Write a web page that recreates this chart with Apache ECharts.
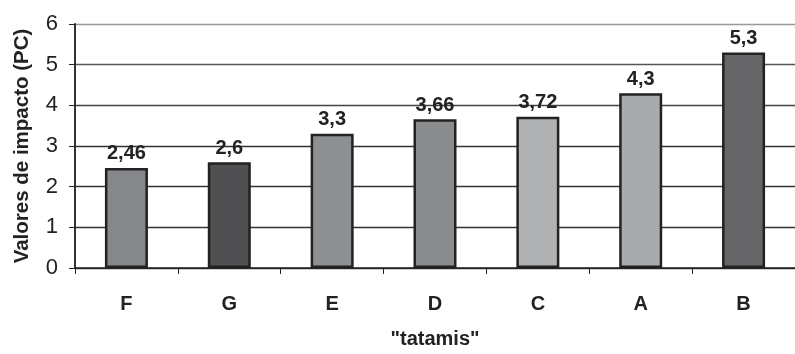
<!DOCTYPE html>
<html>
<head>
<meta charset="utf-8">
<script src="https://cdn.jsdelivr.net/npm/echarts@6/dist/echarts.min.js"></script>
<style>html,body{margin:0;padding:0;background:#fff;}#c{width:795px;height:354px;}</style>
</head>
<body>
<div id="c"></div>
<script>
var categories = ['F', 'G', 'E', 'D', 'C', 'A', 'B'];
var values = [2.46, 2.6, 3.3, 3.66, 3.72, 4.3, 5.3];
var barColors = ['#85878a', '#505052', '#8e8f91', '#8a8b8d', '#b0b1b3', '#a9aaac', '#666668'];
var yTicks = [0, 1, 2, 3, 4, 5, 6];

var chart = echarts.init(document.getElementById('c'));
chart.setOption({
  animation: false,
  backgroundColor: '#fff',
  grid: { left: 75, right: -8, top: 24, bottom: 85, containLabel: false },
  xAxis: {
    type: 'category',
    data: categories,
    name: '"tatamis"',
    nameLocation: 'middle',
    nameGap: 61,
    nameTextStyle: { fontFamily: 'Liberation Sans, Arial', fontWeight: 'bold', fontSize: 20, color: '#222' },
    axisLine: { lineStyle: { color: '#222', width: 1.5 } },
    axisTick: { show: true, alignWithLabel: false, length: 6, lineStyle: { color: '#222' } },
    axisLabel: { fontFamily: 'Liberation Sans, Arial', fontWeight: 'bold', fontSize: 20, color: '#222', margin: 26 }
  },
  yAxis: {
    type: 'value',
    min: yTicks[0], max: yTicks[yTicks.length - 1], interval: 1,
    name: 'Valores de impacto (PC)',
    nameLocation: 'middle',
    nameGap: 42,
    nameTextStyle: { fontFamily: 'Liberation Sans, Arial', fontWeight: 'bold', fontSize: 20.5, color: '#222' },
    axisLine: { show: true, lineStyle: { color: '#333', width: 2 } },
    axisTick: { show: true, length: 6, lineStyle: { color: '#222' } },
    axisLabel: { fontFamily: 'Liberation Sans, Arial', fontSize: 22, color: '#222', margin: 17 },
    splitLine: { show: true, lineStyle: { color: ['#333', '#333', '#333', '#333', '#444', '#555', '#999'], width: 1.3 } }
  },
  series: [{
    type: 'bar',
    data: values.map(function (v, i) { return { value: v, itemStyle: { color: barColors[i] } }; }),
    barWidth: 43,
    itemStyle: { borderColor: '#222', borderWidth: 2.5 },
    label: {
      show: true, position: 'top', distance: 4,
      fontFamily: 'Liberation Sans, Arial', fontWeight: 'bold', fontSize: 20, color: '#222',
      formatter: function (p) { return String(p.value).replace('.', ','); }
    }
  }]
});
</script>
</body>
</html>
